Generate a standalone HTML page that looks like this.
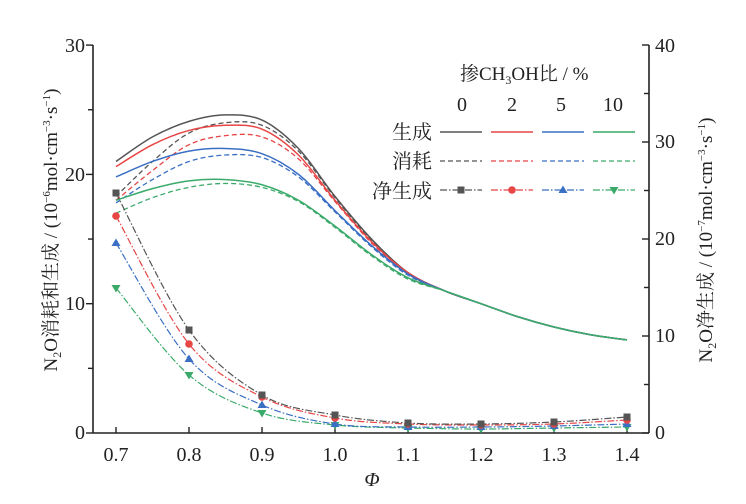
<!DOCTYPE html>
<html><head><meta charset="utf-8"><style>
html,body{margin:0;padding:0;background:#fff;}
svg{display:block;font-family:"Liberation Serif","Noto Serif CJK SC",serif;}
</style></head><body>
<svg id="s" width="746" height="504" viewBox="0 0 746 504" xmlns="http://www.w3.org/2000/svg">
<g stroke="#222" stroke-width="1.6" fill="none">
<line x1="93" y1="45" x2="93" y2="433"/>
<line x1="649" y1="45" x2="649" y2="433"/>
<line x1="93" y1="433" x2="649" y2="433"/>
</g>
<g id="ticks" stroke="#222" stroke-width="1.4"></g>
<g font-size="20" fill="#222">
<text x="85" y="439" text-anchor="end">0</text>
<text x="85" y="310" text-anchor="end">10</text>
<text x="85" y="181" text-anchor="end">20</text>
<text x="85" y="52" text-anchor="end">30</text>
<text x="655" y="439">0</text>
<text x="655" y="342">10</text>
<text x="655" y="245">20</text>
<text x="655" y="148">30</text>
<text x="655" y="52">40</text>
<g text-anchor="middle">
<text x="116" y="461">0.7</text><text x="189" y="461">0.8</text><text x="262" y="461">0.9</text><text x="335" y="461">1.0</text>
<text x="408" y="461">1.1</text><text x="481" y="461">1.2</text><text x="554" y="461">1.3</text><text x="627" y="461">1.4</text>
</g>
<text x="372" y="486" text-anchor="middle" font-style="italic" font-size="20">Φ</text>
<text transform="translate(57,230) rotate(-90)" text-anchor="middle" font-size="19">N<tspan font-size="12" dy="4">2</tspan><tspan dy="-4">O消耗和生成 / (10</tspan><tspan font-size="11" dy="-7">−6</tspan><tspan dy="7">mol·cm</tspan><tspan font-size="11" dy="-7">−3</tspan><tspan dy="7">·s</tspan><tspan font-size="11" dy="-7">−1</tspan><tspan dy="7">)</tspan></text>
<text transform="translate(712,240) rotate(-90)" text-anchor="middle" font-size="19">N<tspan font-size="12" dy="4">2</tspan><tspan dy="-4">O净生成 / (10</tspan><tspan font-size="11" dy="-7">−7</tspan><tspan dy="7">mol·cm</tspan><tspan font-size="11" dy="-7">−3</tspan><tspan dy="7">·s</tspan><tspan font-size="11" dy="-7">−1</tspan><tspan dy="7">)</tspan></text>
<text x="460" y="80" font-size="19">掺CH<tspan font-size="12" dy="4">3</tspan><tspan dy="-4">OH比 / %</tspan></text>
<g text-anchor="middle"><text x="462" y="111">0</text><text x="512" y="111">2</text><text x="561" y="111">5</text><text x="613" y="111">10</text></g>
<g text-anchor="end" font-size="20"><text x="432" y="139">生成</text><text x="432" y="168">消耗</text><text x="432" y="198">净生成</text></g>
</g>
<g id="curves" fill="none"></g>
<g id="leg" fill="none"></g>
</svg>
<script>
var NS="http://www.w3.org/2000/svg";
function el(p,t,a){var e=document.createElementNS(NS,t);for(var k in a)e.setAttribute(k,a[k]);document.getElementById(p).appendChild(e);return e;}
for(var v=0;v<=30;v+=5){var y=433-v*12.93;el("ticks","line",{x1:93,x2:(v%10?88:86),y1:y,y2:y});}
for(var v=0;v<=40;v+=5){var y=433-v*9.7;el("ticks","line",{x1:649,x2:(v%10?644:642),y1:y,y2:y});}
for(var i=0;i<8;i++){var x=116+73*i;el("ticks","line",{x1:x,x2:x,y1:433,y2:427});}
var C=["#555","#e84545","#3a6fc4","#3aaa6a"];
function path(pts){var d="M"+pts[0][0]+","+pts[0][1];for(var i=0;i<pts.length-1;i++){var p0=pts[i-1]||pts[i],p1=pts[i],p2=pts[i+1],p3=pts[i+2]||p2;
d+=" C"+(p1[0]+(p2[0]-p0[0])/6)+","+(p1[1]+(p2[1]-p0[1])/6)+" "+(p2[0]-(p3[0]-p1[0])/6)+","+(p2[1]-(p3[1]-p1[1])/6)+" "+p2[0]+","+p2[1];}return d;}
var tail=[11.0,10.0,9.0,8.2,7.6,7.2];
var solid=[[21.0,22.9,24.1,24.6,24.2,22.0,18.3,15.0,12.4],[20.6,22.3,23.4,23.8,23.5,21.5,18.0,14.8,12.4],[19.8,21.0,21.8,22.0,21.6,20.0,17.2,14.5,12.3],[18.0,18.9,19.5,19.6,19.2,18.0,16.0,13.8,12.0]];
var dash=[[18.3,21.0,23.2,24.0,23.8,21.8,18.2,14.9,12.3],[18.0,20.3,22.3,23.0,22.9,21.2,17.9,14.7,12.3],[17.8,19.6,21.0,21.5,21.3,19.8,17.1,14.4,12.2],[17.0,18.2,19.0,19.3,19.0,17.9,15.9,13.7,11.9]];
function toPts(a){var r=[];a.concat(tail).forEach(function(v,i){r.push([116+36.5*i,433-12.93*v]);});return r;}
for(var k=0;k<4;k++){
el("curves","path",{d:path(toPts(dash[k])),stroke:C[k],"stroke-width":1.3,"stroke-dasharray":"5,3"});
el("curves","path",{d:path(toPts(solid[k])),stroke:C[k],"stroke-width":1.5});}
var net=[[193,330,395,415,423,424,422,417],[216,344,397,418,424,425,424,420],[243,359,405,424,427,427,426,424],[288,375,413,425,428,429,428,427]];
function marker(g,k,x,y){if(k==0)el(g,"rect",{x:x-3.5,y:y-3.5,width:7,height:7,fill:C[k]});
else if(k==1)el(g,"circle",{cx:x,cy:y,r:3.8,fill:C[k]});
else if(k==2)el(g,"path",{d:"M"+x+","+(y-4.5)+" L"+(x+4.5)+","+(y+3)+" L"+(x-4.5)+","+(y+3)+"Z",fill:C[k]});
else el(g,"path",{d:"M"+x+","+(y+4.5)+" L"+(x+4.5)+","+(y-3)+" L"+(x-4.5)+","+(y-3)+"Z",fill:C[k]});}
for(var k=3;k>=0;k--){var pts=net[k].map(function(y,i){return [116+73*i,y];});
el("curves","path",{d:path(pts),stroke:C[k],"stroke-width":1.2,"stroke-dasharray":"7,2,1.5,2"});
pts.forEach(function(p){marker("curves",k,p[0],p[1]);});}
var lx=[440,491,542,593];
for(var k=0;k<4;k++){var x=lx[k];
el("leg","line",{x1:x,x2:x+42,y1:132,y2:132,stroke:C[k],"stroke-width":1.5});
el("leg","line",{x1:x,x2:x+42,y1:161,y2:161,stroke:C[k],"stroke-width":1.3,"stroke-dasharray":"5,3"});
el("leg","line",{x1:x,x2:x+42,y1:190,y2:190,stroke:C[k],"stroke-width":1.2,"stroke-dasharray":"7,2,1.5,2"});
marker("leg",k,x+21,190);}
</script>
</body></html>
